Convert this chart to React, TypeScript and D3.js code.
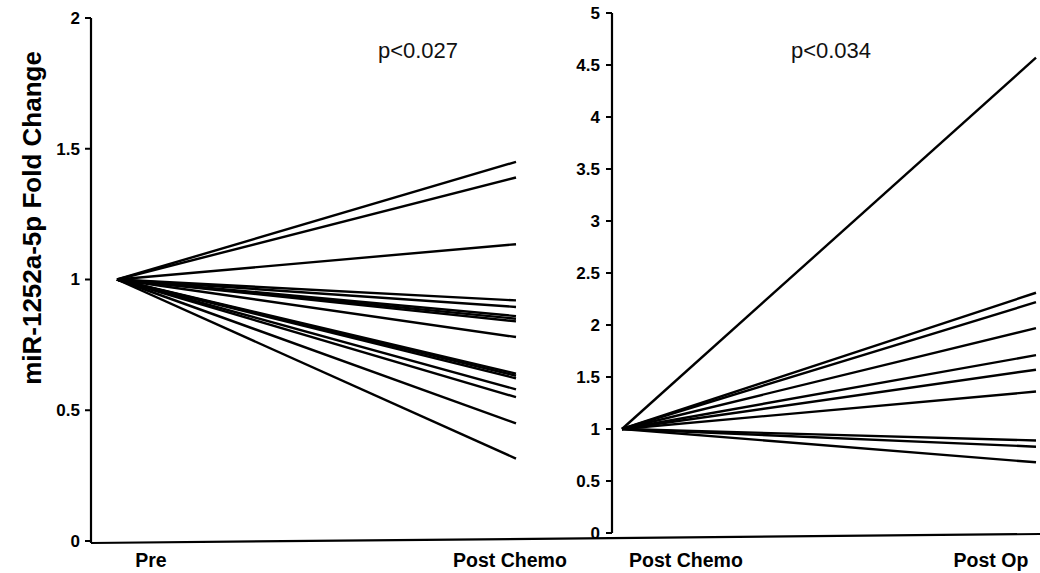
import React from "react";
import * as d3 from "d3";

// Fold change of miR-1252a-5p, each subject normalised to 1 at the first time point
const leftStages = ["Pre", "Post Chemo"];
const leftPostChemo = [1.45, 1.39, 1.135, 0.92, 0.895, 0.86, 0.85, 0.84, 0.78, 0.64, 0.632, 0.622, 0.58, 0.55, 0.45, 0.315];

const rightStages = ["Post Chemo", "Post Op"];
const rightPostOp = [4.57, 2.31, 2.22, 1.97, 1.71, 1.57, 1.36, 0.89, 0.83, 0.68];

const leftTicks = [0, 0.5, 1, 1.5, 2];
const rightTicks = [0, 0.5, 1, 1.5, 2, 2.5, 3, 3.5, 4, 4.5, 5];

const pLeft = "p<0.027";
const pRight = "p<0.034";
const yTitle = "miR-1252a-5p Fold Change";

const W = 1040;
const H = 573;
const FONT = "'Liberation Sans', Arial, sans-serif";

export default function App() {
  const yL = d3.scaleLinear().domain([0, 2]).range([541, 18]);
  const xL = d3.scalePoint<string>().domain(leftStages).range([117, 516]);
  const yR = d3.scaleLinear().domain([0, 5]).range([533, 13]);
  const xR = d3.scalePoint<string>().domain(rightStages).range([622, 1036]);

  const line = d3.line<[number, number]>();

  const leftAxisX = 91;
  const rightAxisX = 612;

  return (
    <div style={{ position: "absolute", left: 0, top: 0 }}>
      <svg width={W} height={H} style={{ display: "block", background: "#fff" }}>
        {/* left panel y axis */}
        <line x1={leftAxisX} x2={leftAxisX} y1={yL(2)} y2={543} stroke="#000" strokeWidth={2.2} />
        {leftTicks.map((t) => (
          <g key={"lt" + t}>
            <line x1={leftAxisX - 6} x2={leftAxisX} y1={yL(t)} y2={yL(t)} stroke="#000" strokeWidth={2} />
            <text
              x={leftAxisX - 11}
              y={yL(t)}
              dy="0.35em"
              textAnchor="end"
              fontFamily={FONT}
              fontWeight="bold"
              fontSize={17}
              fill="#000"
            >
              {t}
            </text>
          </g>
        ))}

        {/* right panel y axis */}
        <line x1={rightAxisX} x2={rightAxisX} y1={yR(5)} y2={yR(0)} stroke="#000" strokeWidth={2.2} />
        {rightTicks.map((t) => (
          <g key={"rt" + t}>
            <line x1={rightAxisX - 6} x2={rightAxisX} y1={yR(t)} y2={yR(t)} stroke="#000" strokeWidth={2} />
            <text
              x={rightAxisX - 12}
              y={yR(t)}
              dy="0.35em"
              textAnchor="end"
              fontFamily={FONT}
              fontWeight="bold"
              fontSize={17}
              fill="#000"
            >
              {t}
            </text>
          </g>
        ))}

        {/* shared baseline */}
        <line x1={leftAxisX} x2={W} y1={543} y2={534} stroke="#000" strokeWidth={2.2} />

        {/* subject lines, left panel */}
        {leftPostChemo.map((v, i) => (
          <path
            key={"l" + i}
            d={line([
              [xL(leftStages[0])!, yL(1)],
              [xL(leftStages[1])!, yL(v)],
            ]) ?? ""}
            stroke="#000"
            strokeWidth={2.4}
            fill="none"
          />
        ))}

        {/* subject lines, right panel */}
        {rightPostOp.map((v, i) => (
          <path
            key={"r" + i}
            d={line([
              [xR(rightStages[0])!, yR(1)],
              [xR(rightStages[1])!, yR(v)],
            ]) ?? ""}
            stroke="#000"
            strokeWidth={2.4}
            fill="none"
          />
        ))}

        {/* p-values */}
        <text x={418} y={58} textAnchor="middle" fontFamily={FONT} fontSize={22} fill="#111">
          {pLeft}
        </text>
        <text x={831} y={58} textAnchor="middle" fontFamily={FONT} fontSize={22} fill="#111">
          {pRight}
        </text>

        {/* x category labels */}
        {[
          { label: leftStages[0], x: 151 },
          { label: leftStages[1], x: 510 },
          { label: rightStages[0], x: 686 },
          { label: rightStages[1], x: 991 },
        ].map((d, i) => (
          <text
            key={"xl" + i}
            x={d.x}
            y={567}
            textAnchor="middle"
            fontFamily={FONT}
            fontWeight="bold"
            fontSize={19.5}
            fill="#000"
          >
            {d.label}
          </text>
        ))}

        {/* y title */}
        <text
          transform="translate(41,218) rotate(-90)"
          textAnchor="middle"
          fontFamily={FONT}
          fontWeight="bold"
          fontSize={26}
          fill="#000"
        >
          {yTitle}
        </text>
      </svg>
    </div>
  );
}
